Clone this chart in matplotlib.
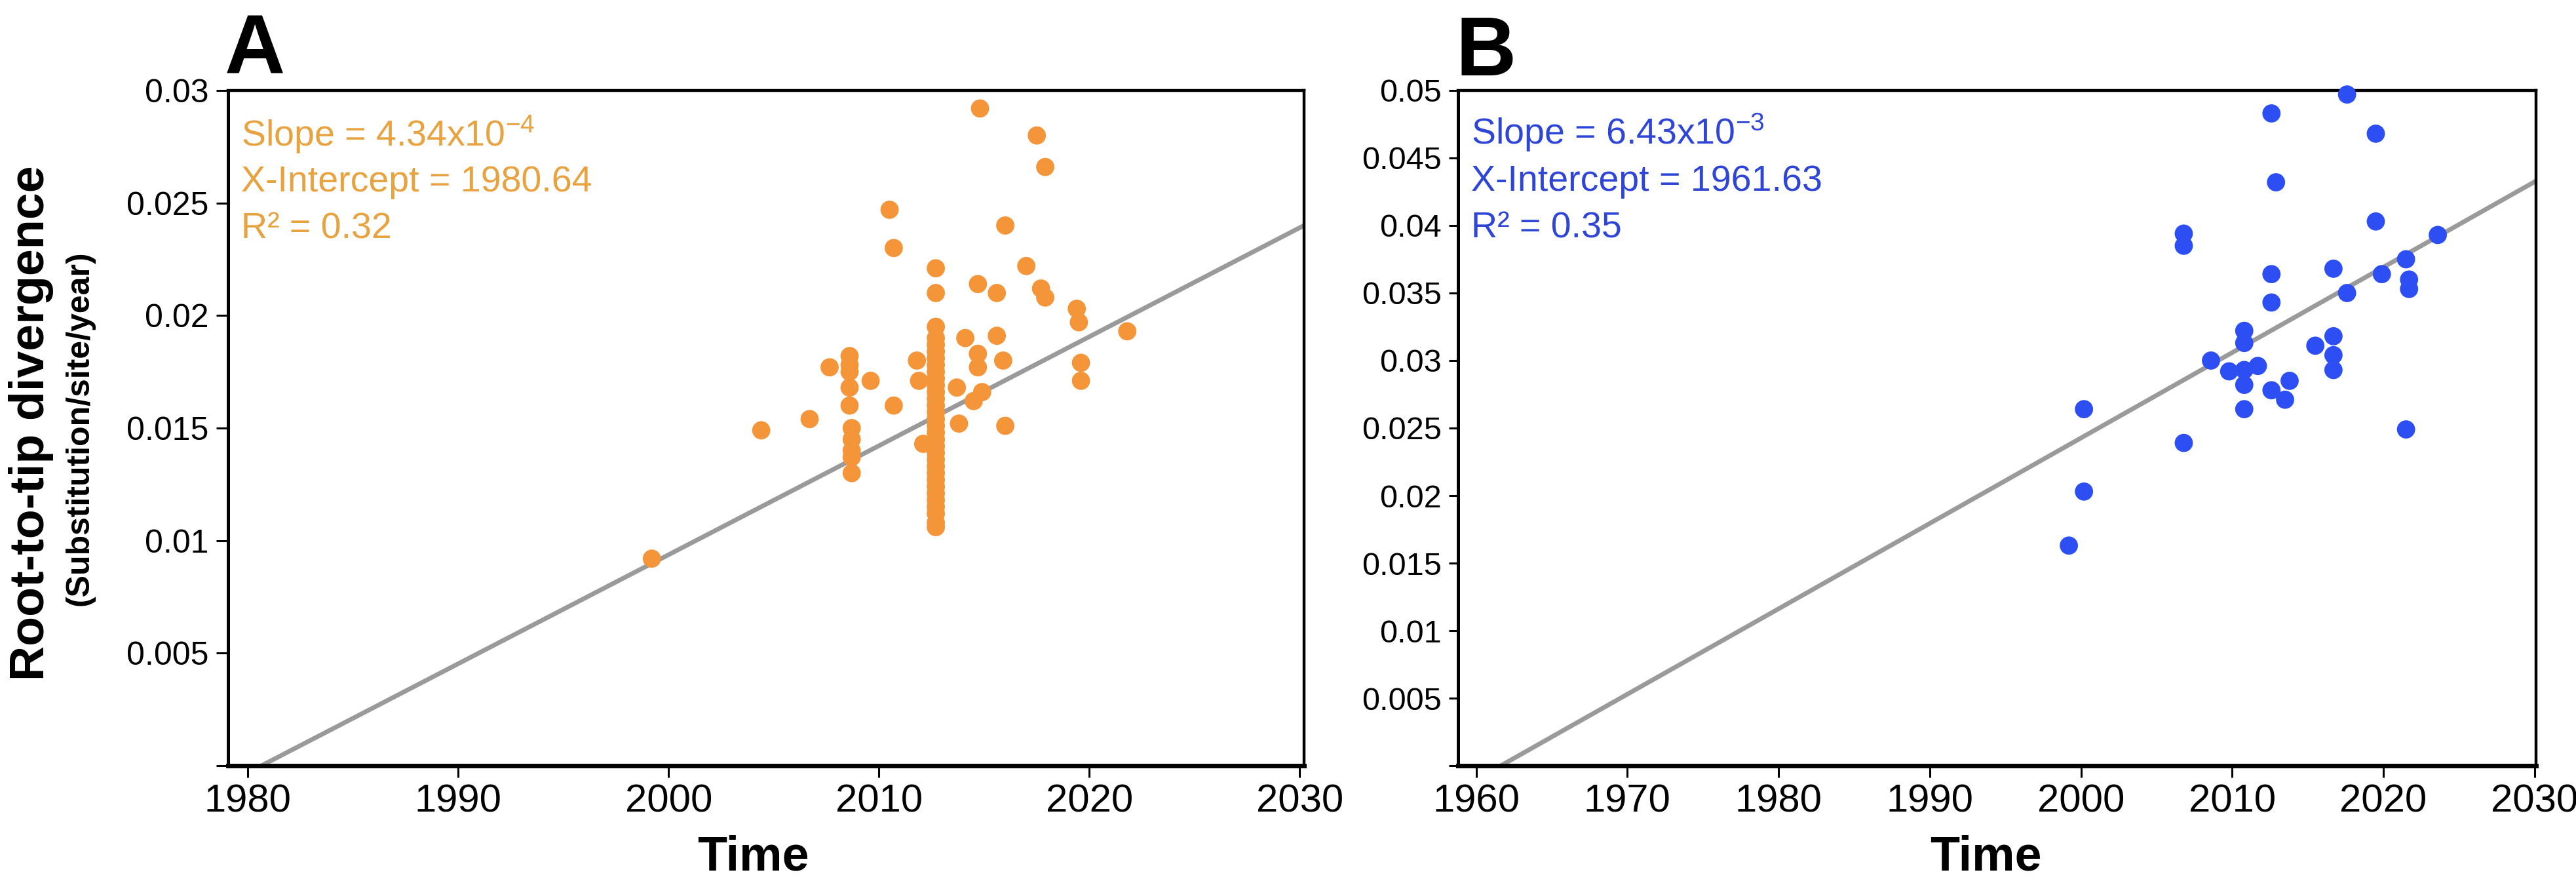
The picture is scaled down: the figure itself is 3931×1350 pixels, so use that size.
import matplotlib
matplotlib.use("Agg")
import matplotlib.pyplot as plt
import numpy as np

plt.rcParams['font.family'] = ['Liberation Sans', 'DejaVu Sans']
plt.rcParams['mathtext.fontset'] = 'custom'
plt.rcParams['mathtext.rm'] = 'Liberation Sans'
plt.rcParams['mathtext.default'] = 'regular'

# panel A - orange
a_year = [1999.2, 2004.4, 2006.7, 2007.65,
          2008.6, 2008.6, 2008.6, 2008.6, 2008.6, 2008.7, 2008.7, 2008.7, 2008.7, 2008.7,
          2009.6, 2010.5, 2010.7, 2010.7, 2011.8, 2011.9, 2012.1,
          2012.7, 2012.7, 2012.7, 2012.7, 2012.7, 2012.7, 2012.7, 2012.7, 2012.7, 2012.7,
          2012.7, 2012.7, 2012.7, 2012.7, 2012.7, 2012.7, 2012.7, 2012.7, 2012.7, 2012.7,
          2012.7, 2012.7, 2012.7, 2012.7, 2012.7, 2012.7, 2012.7, 2012.7, 2012.7, 2012.7,
          2012.7, 2012.7,
          2013.7, 2013.8, 2014.1, 2014.5, 2014.7, 2014.7, 2014.7, 2014.8, 2014.9,
          2015.6, 2015.6, 2015.9, 2016.0, 2016.0, 2017.0, 2017.5, 2017.7, 2017.9, 2017.9,
          2019.4, 2019.5, 2019.6, 2019.6, 2021.8]
a_div = [0.0092, 0.0149, 0.0154, 0.0177,
         0.0182, 0.0178, 0.0175, 0.0168, 0.0160, 0.0150, 0.0145, 0.0140, 0.0137, 0.0130,
         0.0171, 0.0247, 0.0230, 0.0160, 0.0180, 0.0171, 0.0143,
         0.0221, 0.0210, 0.0195, 0.0190, 0.0187, 0.0184, 0.0181, 0.0178, 0.0175, 0.0172,
         0.0169, 0.0166, 0.0163, 0.0160, 0.0157, 0.0154, 0.0151, 0.0148, 0.0145, 0.0142,
         0.0139, 0.0136, 0.0133, 0.0130, 0.0127, 0.0124, 0.0121, 0.0118, 0.0115, 0.0112,
         0.0108, 0.0106,
         0.0168, 0.0152, 0.0190, 0.0162, 0.0214, 0.0183, 0.0177, 0.0292, 0.0166,
         0.0210, 0.0191, 0.0180, 0.0240, 0.0151, 0.0222, 0.0280, 0.0212, 0.0266, 0.0208,
         0.0203, 0.0197, 0.0179, 0.0171, 0.0193]
a_fit_x = [1980.64, 2030.2]
a_fit_y = [0.0, 0.024]
a_text = ["Slope = 4.34x10$^{-4}$", "X-Intercept = 1980.64", "R² = 0.32"]

# panel B - blue
b_year = [2017.6, 2012.6, 2019.5, 2012.9, 2019.5, 2023.6, 2006.8, 2006.8, 2021.5,
          2016.7, 2012.6, 2019.9, 2021.7, 2021.7, 2017.6, 2012.6, 2010.8, 2010.8,
          2016.7, 2015.5, 2016.7, 2016.7, 2008.6, 2009.8, 2010.8, 2011.7, 2010.8,
          2013.8, 2012.6, 2013.5, 2010.8, 2000.2, 2006.8, 2021.5, 2000.2, 1999.2]
b_div = [0.0497, 0.0483, 0.0468, 0.0432, 0.0403, 0.0393, 0.0394, 0.0385, 0.0375,
         0.0368, 0.0364, 0.0364, 0.0360, 0.0353, 0.0350, 0.0343, 0.0322, 0.0313,
         0.0318, 0.0311, 0.0304, 0.0293, 0.0300, 0.0292, 0.0293, 0.0296, 0.0282,
         0.0285, 0.0278, 0.0271, 0.0264, 0.0264, 0.0239, 0.0249, 0.0203, 0.0163]
b_fit_x = [1961.63, 2030.1]
b_fit_y = [0.0, 0.0433]
b_text = ["Slope = 6.43x10$^{-3}$", "X-Intercept = 1961.63", "R² = 0.35"]

orange = '#F5953A'
orange_txt = '#E8A23F'
blue = '#2D4EF2'
blue_txt = '#2E45D6'
gray = '#9A9A9A'

fig = plt.figure(figsize=(39.31, 13.5), dpi=100)
axA = fig.add_axes([0.0885, 0.1348, 0.4177, 0.763])
axB = fig.add_axes([0.566, 0.1348, 0.4185, 0.763])


def style(ax, xlim, ylim, xticks, yticks, ylabels, ytick_len, ysize):
    ax.set_xlim(*xlim)
    ax.set_ylim(*ylim)
    ax.set_xticks(xticks)
    ax.set_xticklabels([str(t) for t in xticks])
    ax.set_yticks(yticks)
    ax.set_yticklabels(ylabels)
    ax.spines['left'].set_linewidth(3.6)
    ax.spines['bottom'].set_linewidth(5)
    ax.spines['top'].set_linewidth(3.2)
    ax.spines['right'].set_linewidth(3.2)
    ax.tick_params(axis='x', length=13, width=2.2, pad=7, labelsize=43)
    ax.tick_params(axis='y', length=ytick_len, width=2.2, pad=8, labelsize=ysize)


style(axA, (1979.05, 2030.2), (0, 0.03), list(range(1980, 2031, 10)),
      np.arange(0, 0.0301, 0.005),
      ['', '0.005', '0.01', '0.015', '0.02', '0.025', '0.03'], 13, 36)
style(axB, (1958.8, 2030.1), (0, 0.05), list(range(1960, 2031, 10)),
      np.arange(0, 0.0501, 0.005),
      ['', '0.005', '0.01', '0.015', '0.02', '0.025', '0.03', '0.035',
       '0.04', '0.045', '0.05'], 10, 35)

axA.plot(a_fit_x, a_fit_y, color=gray, lw=5, zorder=2)
axA.scatter(a_year, a_div, s=400, color=orange, edgecolors='none', zorder=3)
axB.plot(b_fit_x, b_fit_y, color=gray, lw=5, zorder=2)
axB.scatter(b_year, b_div, s=400, color=blue, edgecolors='none', zorder=3, clip_on=False)

for ax, lines, col, ys in [(axA, a_text, orange_txt, [0.9175, 0.8505, 0.7806]),
                           (axB, b_text, blue_txt, [0.920, 0.851, 0.7825])]:
    for t, y in zip(lines, ys):
        ax.text(0.012, y, t, transform=ax.transAxes, color=col, fontsize=40,
                va='baseline', ha='left')

fig.text(0.0873, 0.917, "A", fontsize=92, fontweight='bold', va='baseline')
fig.text(0.565, 0.915, "B", fontsize=92, fontweight='bold', va='baseline')

fig.text(0.2925, 0.017, "Time", fontsize=53, fontweight='bold', ha='center', va='baseline')
fig.text(0.7708, 0.017, "Time", fontsize=53, fontweight='bold', ha='center', va='baseline')

fig.text(0.012, 0.522, "Root-to-tip divergence", rotation=90, fontsize=53,
         fontweight='bold', ha='center', va='center')
fig.text(0.031, 0.516, "(Substitution/site/year)", rotation=90, fontsize=36,
         fontweight='bold', ha='center', va='center')

fig.savefig("out.png", dpi=100)
